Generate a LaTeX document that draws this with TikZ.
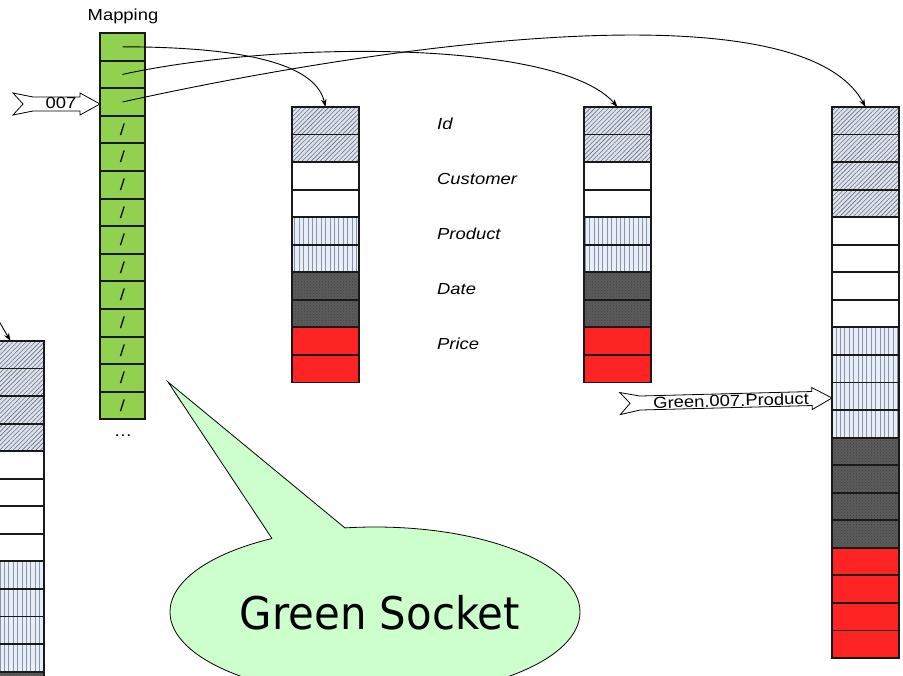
\documentclass[tikz,border=0pt]{standalone}
\usepackage{fontspec}
\setmainfont{Liberation Sans}
\newfontfamily\labfont[FakeStretch=1.15]{Liberation Sans}
\newfontfamily\callfont[FakeStretch=0.93]{DejaVu Sans}
\usetikzlibrary{patterns,patterns.meta,arrows.meta,shapes.geometric}

\definecolor{mapgreen}{HTML}{92D050}
\definecolor{hatchbg}{HTML}{DCE2EE}
\definecolor{hatchline}{HTML}{6A6E78}
\definecolor{stripebg}{HTML}{E8EEF8}
\definecolor{stripeline}{HTML}{8A93A6}
\definecolor{darkcell}{HTML}{5C5C5C}
\definecolor{redcell}{HTML}{FF2424}
\definecolor{bubble}{HTML}{CCFFCC}

\tikzset{
  cellbox/.style={minimum width=67pt, minimum height=27.55pt, inner sep=0pt, outer sep=0pt},
  cellline/.style={draw=black!90, line width=1.9pt},
  hatchcell/.style={fill=hatchbg, postaction={pattern={Lines[angle=45,distance=3.2pt,line width=0.6pt]}, pattern color=hatchline}},
  plaincell/.style={fill=white},
  stripecell/.style={fill=stripebg, postaction={pattern={Lines[angle=90,distance=4.4pt,line width=0.8pt]}, pattern color=stripeline}},
  darkfill/.style={fill=darkcell, postaction={pattern=crosshatch dots, pattern color=black!75}},
  redfill/.style={fill=redcell},
  mapcell/.style={fill=mapgreen, minimum width=45pt, minimum height=27.6pt,
    inner sep=0pt, outer sep=0pt, font=\labfont\fontsize{16}{16}\selectfont},
  link/.style={line width=0.9pt, -{Stealth[length=8pt,width=5.5pt]}},
  field/.style={anchor=west, inner sep=0pt, font=\labfont\itshape\fontsize{16}{16}\selectfont},
  plainlabel/.style={inner sep=0pt, font=\labfont\fontsize{16}{16}\selectfont},
  tagshape/.style={draw=black, line width=0.8pt, fill=white, line join=miter},
}

% one run of equal cells in a record column:
% #1 name prefix, #2 centre x, #3 top y, #4 first index, #5 last index, #6 style
\newcommand\cellrun[6]{%
  \foreach \k in {#4,...,#5}{%
    \node[cellbox,#6] (#1\k) at (#2,{#3+(\k-0.5)*27.55}) {};
  }}
% outlines of cells #2..#3 of column #1, drawn over the fills
\newcommand\cellframes[3]{%
  \foreach \k in {#2,...,#3}{%
    \draw[cellline] (#1\k.north west) rectangle (#1\k.south east);
  }}

\begin{document}
\begin{tikzpicture}[x=1pt,y=-1pt]
\useasboundingbox (0,0) rectangle (903,676);
\clip (0,0) rectangle (903,676);

% ---- mapping table ----
\node[plainlabel] (maptitle) at (123,16) {Mapping};
\foreach \k in {1,...,3}{\node[mapcell] (m\k) at (122.5,{33+(\k-0.5)*27.6}) {};}
\foreach \k in {4,...,14}{\node[mapcell] (m\k) at (122.5,{33+(\k-0.5)*27.6}) {/};}
\cellframes{m}{1}{14}
\node[plainlabel] (mapmore) at (123,436) {…};

% ---- record columns ----
% two-row fields
\cellrun{a}{325.5}{107}{1}{2}{hatchcell}
\cellrun{a}{325.5}{107}{3}{4}{plaincell}
\cellrun{a}{325.5}{107}{5}{6}{stripecell}
\cellrun{a}{325.5}{107}{7}{8}{darkfill}
\cellrun{a}{325.5}{107}{9}{10}{redfill}
\cellframes{a}{1}{10}

\cellrun{b}{617.5}{107}{1}{2}{hatchcell}
\cellrun{b}{617.5}{107}{3}{4}{plaincell}
\cellrun{b}{617.5}{107}{5}{6}{stripecell}
\cellrun{b}{617.5}{107}{7}{8}{darkfill}
\cellrun{b}{617.5}{107}{9}{10}{redfill}
\cellframes{b}{1}{10}

% four-row fields
\cellrun{c}{865.5}{107}{1}{4}{hatchcell}
\cellrun{c}{865.5}{107}{5}{8}{plaincell}
\cellrun{c}{865.5}{107}{9}{12}{stripecell}
\cellrun{c}{865.5}{107}{13}{16}{darkfill}
\cellrun{c}{865.5}{107}{17}{20}{redfill}
\cellframes{c}{1}{20}

\cellrun{d}{10.5}{341}{1}{4}{hatchcell}
\cellrun{d}{10.5}{341}{5}{8}{plaincell}
\cellrun{d}{10.5}{341}{9}{12}{stripecell}
\cellrun{d}{10.5}{341}{13}{16}{darkfill}
\cellrun{d}{10.5}{341}{17}{20}{redfill}
\cellframes{d}{1}{20}

% ---- field names ----
\node[field] (fid)   at (437,124) {Id};
\node[field] (fcust) at (437,179) {Customer};
\node[field] (fprod) at (437,234) {Product};
\node[field] (fdate) at (437,289) {Date};
\node[field] (fprice) at (437,344) {Price};

% ---- pointers from the mapping table ----
\draw[link] (m1.center) .. controls (230,47) and (315,60) .. (a1.north);
\draw[link] (m2.center) .. controls (280,40) and (560,40) .. (b1.north);
\draw[link] (m3.center) .. controls (380,45) and (800,-15) .. (c1.north);
\coordinate (dfrom) at (-4,316);
\draw[link] (dfrom) -- (d1.north);

% ---- key tag "007" ----
\path[tagshape] (13,93) -- (33,97) -- (80,97) -- (80,93) -- (100,104) -- (80,115)
  -- (80,111) -- (33,111) -- (13,115) -- (23,104) -- cycle;
\node[plainlabel] (key) at (61,103) {007};

% ---- address tag ----
\begin{scope}[rotate around={1.5:(832,398)}]
\path[tagshape] (620,387) -- (640,391) -- (812,391) -- (812,387) -- (832,398) -- (812,409)
  -- (812,405) -- (640,405) -- (620,409) -- (630,398) -- cycle;
\node[plainlabel, rotate=1.5] (addr) at (731,398) {Green.007.Product};
\end{scope}

% ---- callout ----
\node[ellipse, draw=black, line width=0.8pt, fill=bubble, minimum width=410pt,
  minimum height=170pt, inner sep=0pt] (sock) at (375,612) {};
\fill[bubble] (272,538.5) -- (168,382) -- (345,528) -- (345,536) -- (272,546) -- cycle;
\draw[line width=0.8pt, line join=miter] (272,538.5) -- (168,382) -- (345,528);
\node[inner sep=0pt, font=\callfont\fontsize{45}{45}\selectfont] (socktext) at (380,613) {Green Socket};

\end{tikzpicture}
\end{document}
